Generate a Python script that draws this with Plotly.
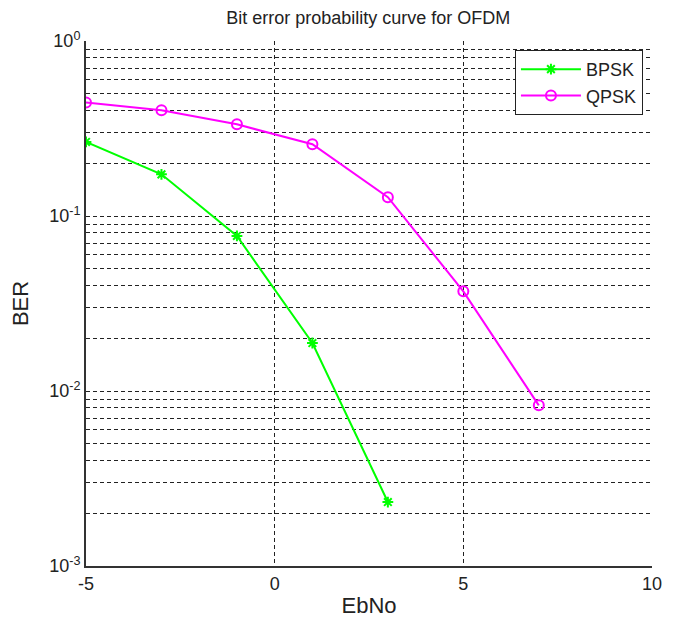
import plotly.graph_objects as go

FONT = "Liberation Sans, Arial, sans-serif"

ebno = [-5, -3, -1, 1, 3, 5, 7]
ber_bpsk = [0.265, 0.173, 0.0769, 0.0188, 0.00232]
ber_qpsk = [0.445, 0.402, 0.334, 0.257, 0.128, 0.0371, 0.00828]

x_ticks = [-5, 0, 5, 10]
decades = [-3, -2, -1, 0]

y_major = [10 ** d for d in decades]
y_labels = [f"10<sup>{d}</sup>" for d in decades]
# minor grid: 2..9 x 10^k
y_minor = [m * 10 ** d for d in decades[:-1] for m in range(2, 10)]

fig = go.Figure()
fig.add_trace(go.Scatter(
    x=ebno[:len(ber_bpsk)], y=ber_bpsk, name="BPSK", mode="lines+markers",
    line=dict(color="#00ff00", width=2),
    marker=dict(symbol="asterisk-open", size=9, line=dict(color="#00ff00", width=2)),
))
fig.add_trace(go.Scatter(
    x=ebno, y=ber_qpsk, name="QPSK", mode="lines+markers",
    line=dict(color="#ff00ff", width=2),
    marker=dict(symbol="circle-open", size=10, line=dict(color="#ff00ff", width=2)),
))

grid = dict(showgrid=True, gridcolor="#222222", gridwidth=1, griddash="4px,3px")

# page body adds an 8px offset, so the figure is a bit smaller than the window
fig.update_layout(
    width=666, height=610,
    margin=dict(l=78, r=22, t=33, b=52),
    plot_bgcolor="white", paper_bgcolor="white",
    font=dict(family=FONT, size=18, color="#222222"),
    title=dict(text="Bit error probability curve for OFDM", x=0.541, xanchor="center",
               y=0.984, yanchor="middle", font=dict(size=18, color="#222222")),
    xaxis=dict(range=[-5, 10], tickvals=x_ticks, ticktext=[str(v) for v in x_ticks],
               tickfont=dict(size=18), automargin=False,
               zeroline=False, showline=True, linecolor="#333333", linewidth=2,
               ticks="", title=dict(text="EbNo", standoff=11), **grid),
    yaxis=dict(type="log", range=[-3, 0], tickvals=y_major, ticktext=y_labels,
               tickfont=dict(size=18), automargin=False,
               zeroline=False, showline=True, linecolor="#333333", linewidth=2,
               ticks="", title=dict(text="BER", standoff=17),
               minor=dict(tickvals=y_minor, showgrid=True, gridcolor="#222222",
                          gridwidth=1, griddash="4px,3px", ticks=""),
               **grid),
    legend=dict(x=0.984, y=0.983, xanchor="right", yanchor="top",
                bgcolor="white", bordercolor="#222222", borderwidth=1,
                itemwidth=60, font=dict(size=18), tracegroupgap=4),
    showlegend=True,
)

fig.write_html("out.html")
